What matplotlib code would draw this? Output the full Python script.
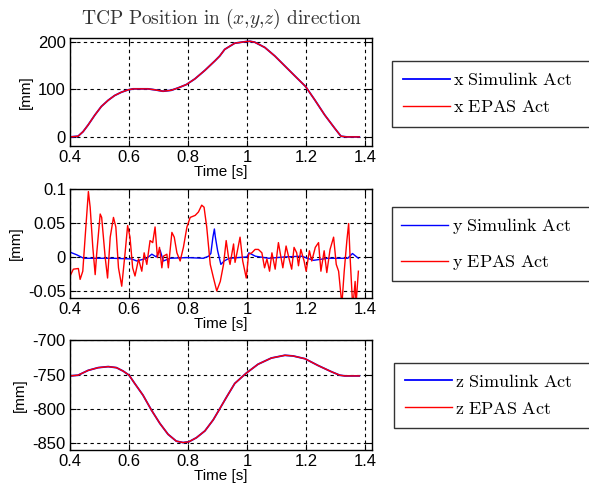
import numpy as np
import matplotlib
matplotlib.use("Agg")
import matplotlib.pyplot as plt
from matplotlib.ticker import FormatStrFormatter

plt.rcParams['font.family'] = ['Liberation Sans', 'DejaVu Sans']
plt.rcParams['mathtext.fontset'] = 'cm'
plt.rcParams['axes.unicode_minus'] = False

# x direction [mm]
tx = [0.400, 0.427, 0.444, 0.461, 0.484, 0.506, 0.529, 0.551, 0.574, 0.597, 0.614,
      0.664, 0.687, 0.715, 0.743, 0.766, 0.794, 0.823, 0.857, 0.891, 0.907, 0.924,
      0.958, 0.997, 1.010, 1.026, 1.060, 1.094, 1.128, 1.162, 1.198, 1.229, 1.263,
      1.297, 1.318, 1.337, 1.380]
x_sim = [0, 1.4, 11, 25, 46, 64, 77, 87, 94, 99, 101,
         101, 99, 96, 98, 103, 110, 122, 140, 160, 170, 184,
         197, 200.5, 201, 199, 188, 170, 149, 128, 106, 78, 46,
         18, 1.4, 0, 0]
x_epas = list(x_sim)

# y direction [mm]
ty_epas = [0.400, 0.411, 0.428, 0.434, 0.443, 0.451, 0.462, 0.468, 0.477, 0.485, 0.490,
           0.502, 0.507, 0.519, 0.527, 0.536, 0.547, 0.555, 0.564, 0.575, 0.586, 0.595,
           0.603, 0.612, 0.620, 0.632, 0.643, 0.651, 0.660, 0.671, 0.680, 0.688, 0.696,
           0.703, 0.711, 0.716, 0.728, 0.733, 0.745, 0.753, 0.762, 0.773, 0.784, 0.796,
           0.807, 0.824, 0.835, 0.846, 0.854, 0.863, 0.875, 0.886, 0.897, 0.909, 0.920,
           0.929, 0.937, 0.942, 0.954, 0.959, 0.967, 0.976, 0.985, 0.997, 1.005, 1.016,
           1.027, 1.038, 1.050, 1.059, 1.067, 1.076, 1.084, 1.095, 1.106, 1.114, 1.121,
           1.132, 1.144, 1.151, 1.159, 1.168, 1.174, 1.182, 1.193, 1.200, 1.211, 1.219,
           1.231, 1.242, 1.250, 1.261, 1.270, 1.281, 1.293, 1.302, 1.310, 1.321, 1.329,
           1.338, 1.344, 1.349, 1.358, 1.366, 1.369, 1.377]
y_epas = [-0.028, -0.018, -0.017, -0.033, -0.021, 0.029, 0.096, 0.073, 0.014, -0.026, 0.004,
          0.063, 0.058, -0.001, -0.031, 0.029, 0.058, 0.044, -0.016, -0.043, 0.004, 0.046,
          0.029, -0.016, -0.028, -0.003, -0.021, 0.006, -0.011, 0.024, 0.021, 0.044, -0.001,
          0.014, -0.016, 0.001, 0.004, -0.016, 0.036, 0.029, 0.006, -0.006, 0.014, 0.044,
          0.058, 0.061, 0.066, 0.076, 0.073, 0.044, -0.011, -0.031, -0.050, -0.036, -0.011,
          0.024, -0.001, -0.011, 0.019, -0.008, 0.009, 0.029, -0.006, -0.031, 0.004, 0.006,
          0.011, 0.011, 0.006, -0.016, -0.003, -0.021, 0.006, -0.018, 0.021, 0.001, -0.016,
          0.016, -0.006, -0.018, 0.014, 0.006, -0.013, 0.011, -0.006, -0.021, 0.009, -0.006,
          0.014, 0.021, -0.021, 0.009, -0.023, 0.011, 0.029, -0.011, -0.021, -0.070, -0.021,
          0.024, 0.049, -0.001, -0.075, -0.036, -0.070, -0.021]
ty_sim = [0.400, 0.423, 0.446, 0.491, 0.547, 0.609, 0.626, 0.660, 0.677, 0.692, 0.705,
          0.716, 0.739, 0.796, 0.852, 0.869, 0.877, 0.884, 0.889, 0.892, 0.900, 0.911,
          0.922, 0.939, 1.000, 1.006, 1.028, 1.073, 1.129, 1.185, 1.225, 1.273, 1.341,
          1.357, 1.377]
y_sim = [0.007, 0.003, -0.002, -0.002, -0.002, -0.003, -0.006, -0.002, 0.004, 0.000, 0.010,
         -0.006, -0.002, -0.001, -0.002, 0.001, 0.005, 0.029, 0.041, 0.030, 0.009, -0.011,
         -0.006, -0.002, 0.000, 0.006, 0.001, -0.002, 0.000, 0.001, -0.005, -0.002, -0.002,
         0.005, -0.002]

# z direction [mm]
tz = [0.400, 0.427, 0.461, 0.495, 0.529, 0.557, 0.580, 0.600, 0.619, 0.647, 0.676,
      0.704, 0.732, 0.760, 0.783, 0.802, 0.828, 0.857, 0.885, 0.907, 0.930, 0.958,
      0.997, 1.037, 1.082, 1.128, 1.156, 1.196, 1.241, 1.286, 1.314, 1.331, 1.380]
z_sim = [-752, -751, -744, -740, -738.5, -740, -745, -751, -763, -780, -802,
         -821, -837, -847, -849, -848, -842, -832, -816, -800, -783, -763,
         -748, -735, -726, -722, -723, -727, -737, -746, -751, -752, -752]
z_epas = list(z_sim)

xticks = [0.4, 0.6, 0.8, 1.0, 1.2, 1.4]

fig = plt.figure(figsize=(5.89, 4.93), dpi=100)
L, W = 0.119, 0.513
ax1 = fig.add_axes([L, 0.704, W, 0.219])
ax2 = fig.add_axes([L, 0.396, W, 0.221])
ax3 = fig.add_axes([L, 0.087, W, 0.223])

def style(ax, ylim, yticks):
    ax.set_xlim(0.4, 1.424)
    ax.set_ylim(*ylim)
    ax.set_xticks(xticks)
    ax.set_yticks(yticks)
    ax.xaxis.set_major_formatter(FormatStrFormatter('%g'))
    ax.yaxis.set_major_formatter(FormatStrFormatter('%g'))
    ax.grid(True, color='black', linestyle=(0, (3, 3)), linewidth=0.8)
    ax.tick_params(direction='in', top=True, right=True, labelsize=12, length=4, pad=3)
    ax.set_xlabel('Time [s]', fontsize=11, labelpad=0)
    ax.set_ylabel('[mm]', fontsize=11, labelpad=4)
    for s in ax.spines.values():
        s.set_linewidth(1.0)

ax1.plot(tx, x_sim, color='blue', lw=1.3, label=r'$\mathrm{x\ Simulink\ Act}$')
ax1.plot(tx, x_epas, color='red', lw=1.0, label=r'$\mathrm{x\ EPAS\ Act}$')
style(ax1, (-19, 208), [0, 100, 200])
ax1.set_title(r'$\mathrm{TCP\ Position\ in\ }(x{,}y{,}z)\mathrm{\ direction}$',
              fontsize=14, color='#333333', pad=10)

ax2.plot(ty_sim, y_sim, color='blue', lw=1.0, label=r'$\mathrm{y\ Simulink\ Act}$')
ax2.plot(ty_epas, y_epas, color='red', lw=1.0, label=r'$\mathrm{y\ EPAS\ Act}$')
style(ax2, (-0.06, 0.1), [-0.05, 0, 0.05, 0.1])

ax3.plot(tz, z_sim, color='blue', lw=1.3, label=r'$\mathrm{z\ Simulink\ Act}$')
ax3.plot(tz, z_epas, color='red', lw=1.0, label=r'$\mathrm{z\ EPAS\ Act}$')
style(ax3, (-860, -700), [-850, -800, -750, -700])

legend_boxes = [(ax1, 0.6655, 0.876, 0.55, 0.6), (ax2, 0.6655, 0.580, 0.95, 0.5),
                (ax3, 0.669, 0.264, 0.55, 0.6)]
for ax, x0, top, sp, bp in legend_boxes:
    leg = ax.legend(loc='upper left', bbox_to_anchor=(x0, top - 0.1, 0.42, 0.1),
                    bbox_transform=fig.transFigure, mode='expand', fontsize=13,
                    fancybox=False, framealpha=1, edgecolor='#333333',
                    handlelength=2.6, handletextpad=0.2, labelspacing=sp,
                    borderaxespad=0, borderpad=bp)
    leg.get_frame().set_linewidth(1.0)

fig.savefig('out.png', dpi=100)
